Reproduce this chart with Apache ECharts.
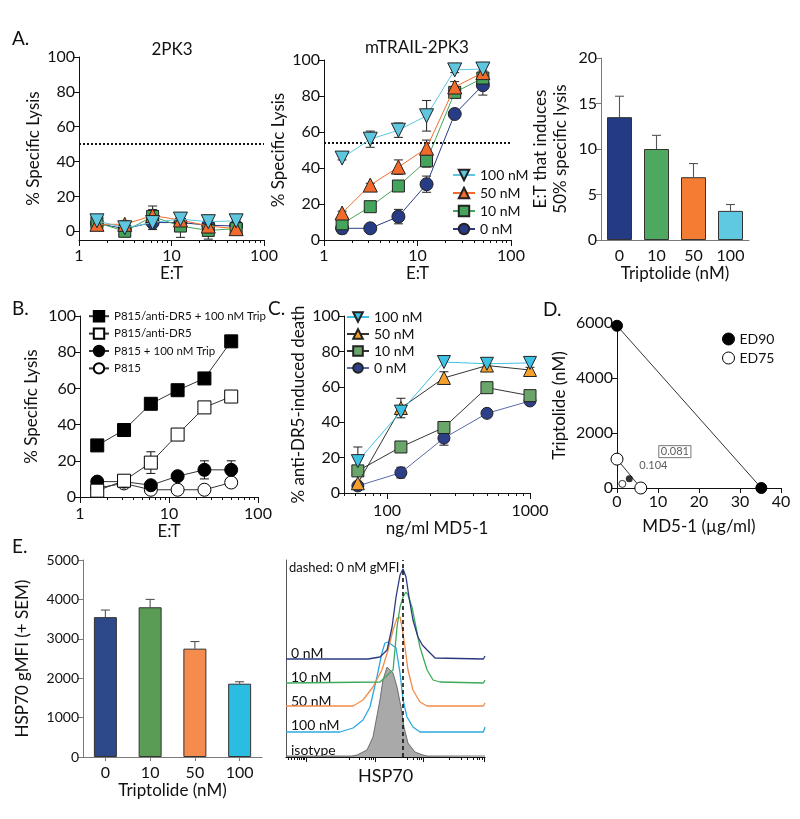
<!DOCTYPE html>
<html><head><meta charset="utf-8">
<script src="https://cdn.jsdelivr.net/npm/echarts/dist/echarts.min.js"></script>
<style>html,body{margin:0;padding:0;background:#fff}#c{width:800px;height:819px}</style>
</head><body><div id="c"></div>
<script>
// ---------------- DATA ----------------
const etRatio = [1.5625, 3.125, 6.25, 12.5, 25, 50];
const doseNames = ['100 nM', '50 nM', '10 nM', '0 nM'];

// A: 2PK3 (% specific lysis, SEM)
const a1Lysis100 = [6, 2, 5, 7, 5.5, 6];
const a1Lysis50  = [4, 4, 9, 6.5, 3, 1.5];
const a1Lysis10  = [5, 0, 8.5, 3, 0.5, 1.5];
const a1Lysis0   = [4.5, 1.5, 5, 5, 3.5, 3];
const a1Sem100 = [3, 1, 3, 3, 2, 1];
const a1Sem50  = [2, 2, 5.5, 3, 2, 1];
const a1Sem10  = [2, 3, 4, 6.5, 5, 2];
const a1Sem0   = [1, 2, 4, 3, 4, 2];
const a1Threshold = 50;

// A: mTRAIL-2PK3
const a2Lysis100 = [45.5, 56, 61, 69, 94.5, 95];
const a2Lysis50  = [15, 30.5, 40.5, 51, 85, 93];
const a2Lysis10  = [9, 18.5, 30, 44, 82, 90];
const a2Lysis0   = [6.5, 6.5, 13, 31, 70, 86];
const a2Sem100 = [1, 4.5, 4, 8.5, 1.5, 3.5];
const a2Sem50  = [1, 1, 4, 4.5, 3, 5];
const a2Sem10  = [2, 1, 1, 3.5, 2, 4];
const a2Sem0   = [3, 1, 4, 4.5, 1.5, 5.5];
const a2Threshold = 54;

// A: E:T that induces 50% lysis
const tripCats = ['0', '10', '50', '100'];
const a3EtValues = [13.5, 10, 6.9, 3.2];
const a3EtSem = [2.3, 1.5, 1.5, 0.7];

// B
const bNames = ['P815/anti-DR5 + 100 nM Trip', 'P815/anti-DR5', 'P815 + 100 nM Trip', 'P815'];
const bDr5Trip = [28.5, 37, 51.5, 59, 65.5, 86];
const bDr5     = [3.5, 9, 19, 34.5, 49.5, 55.5];
const bTrip    = [8.5, 8.5, 6.5, 11.5, 15, 15];
const bP815    = [5, 7.5, 4, 4, 4, 8];
const bSemDr5Trip = [0, 0, 0, 0, 0, 0];
const bSemDr5     = [0, 1, 6, 1, 1, 1];
const bSemTrip    = [0, 0, 0, 0, 5, 5];
const bSemP815    = [0, 0, 0, 0, 0, 2.5];

// C
const md5Doses = [62.5, 125, 250, 500, 1000];
const cDeath100 = [18, 46, 74, 73, 73.5];
const cDeath50  = [5.5, 48, 65, 72, 69.5];
const cDeath10  = [12.5, 26, 37, 59.5, 55];
const cDeath0   = [4, 11.5, 31, 45, 52];
const cSem100 = [8, 0, 0, 0, 0];
const cSem50  = [0, 5.5, 3.5, 1, 1.5];
const cSem10  = [2, 2, 2, 1, 1];
const cSem0   = [1, 3, 4, 1, 1];

// D isobologram
const dEd90 = [[0, 5900], [35.2, 0]];
const dEd90Combo = [[3, 340]];
const dEd75 = [[0, 1050], [5.8, 0]];
const dEd75Combo = [[1.3, 150]];
const dIndexEd90 = '0.081';
const dIndexEd75 = '0.104';

// E bars
const eGmfi = [3550, 3800, 2750, 1860];
const eGmfiSem = [180, 200, 180, 50];

// E histograms: [HSP70 channel, height]
const hist0nM = [[0,0],[41.2,0],[47.2,2],[50.8,9],[53.3,32],[55.3,62],[57.3,84],[58.8,90],[60.3,82],[61.8,62],[63.8,39],[66.3,22],[68.5,14],[70.9,9],[74.9,1],[99.2,0],[100,3]];
const hist10nM = [[0,0],[47.2,1],[53.8,13],[55.8,56],[57.3,76],[58.8,86],[60.3,91],[61.3,88],[63.3,76],[65.3,56],[67.3,36],[70.9,13],[73.9,3],[77.4,1],[99.2,0],[100,3]];
const hist50nM = [[0,0],[33.7,0],[38.7,6],[43.7,19],[48.2,36],[51.3,56],[53.8,76],[55.8,88],[57.3,89],[58.3,79],[58.8,79],[59.8,59],[61.3,36],[63.8,16],[67.3,4],[70.9,0],[99.2,0],[100,3]];
const hist100nM = [[0,0],[27.1,0],[33.7,4],[38.7,12],[42.2,25],[45.7,55],[48.2,79],[49.7,89],[51.3,90],[53.3,87],[55.3,84],[57.3,59],[58.8,32],[60.8,15],[63.8,5],[67.3,0],[99.2,0],[100,5]];
const histIsotype = [[0,0],[33,0],[35.7,1],[40.7,6],[43.7,19],[47.2,56],[48.7,76],[50.8,89],[52.3,86],[53.8,83],[55.8,69],[57.8,49],[59.3,29],[61.3,13],[64.8,4],[68.8,1],[71,0],[100,0]];
const gmfi0nM = 58.8;
const histLabels = ['0 nM', '10 nM', '50 nM', '100 nM', 'isotype'];
const histMajorTicks = [10, 45, 69, 99.5];
const histMinorTicks = [1,2.5,4,5.5,6.5,7.5,8.5,9.3,32,37,40,42,43,44,61,64,66,67,68,82,88,91,94,96,97,98.5];

// ---------------- LAYOUT / STYLE ----------------
const FONT = 'Lato, "Liberation Sans", sans-serif';
const INK = '#111';
const GRAY = '#7a7a7a';
const histOffsets = [98, 74, 51, 25, 1];
const plain = v => String(v);
const NAME_FS = 17, TICK_FS = 16;

const chart = echarts.init(document.getElementById('c'), null, {renderer: 'canvas'});

function logAxes(grid, min, max, majors, minors, name, nameGap, margin) {
  return [{
    type: 'log', logBase: 10, gridIndex: grid, min, max, position: 'bottom',
    name, nameLocation: 'middle', nameGap,
    nameTextStyle: {fontSize: NAME_FS, color: INK, fontFamily: FONT},
    axisLine: {show: true, onZero: false, lineStyle: {color: INK, width: 1}},
    axisTick: {show: true, customValues: majors, length: 6, lineStyle: {color: INK}},
    axisLabel: {customValues: majors, fontSize: TICK_FS, color: INK, margin, fontFamily: FONT, formatter: plain},
    splitLine: {show: false}
  }, {
    type: 'log', logBase: 10, gridIndex: grid, min, max, position: 'bottom',
    axisLine: {show: false, onZero: false},
    axisTick: {show: true, customValues: minors, length: 3, lineStyle: {color: INK}},
    axisLabel: {show: false}, splitLine: {show: false}
  }];
}
function yAxisV(grid, min, max, labels, name, nameGap, color, fs) {
  return {
    type: 'value', gridIndex: grid, min, max,
    name, nameLocation: 'middle', nameGap,
    nameTextStyle: {fontSize: NAME_FS, color: INK, fontFamily: FONT, lineHeight: 20},
    axisLine: {show: true, onZero: false, lineStyle: {color: color || INK, width: 1}},
    axisTick: {show: true, customValues: labels, length: 5, lineStyle: {color: color || INK}},
    axisLabel: {customValues: labels, fontSize: fs || TICK_FS, color: INK, margin: 4, fontFamily: FONT, formatter: plain},
    splitLine: {show: false}
  };
}
function catAxis(grid, name, nameGap, color, showTick) {
  return {
    type: 'category', gridIndex: grid, data: tripCats, position: 'bottom',
    name, nameLocation: 'middle', nameGap,
    nameTextStyle: {fontSize: NAME_FS, color: INK, fontFamily: FONT},
    axisLine: {show: true, onZero: false, lineStyle: {color, width: 1.2}},
    axisTick: {show: showTick, alignWithLabel: true, length: 4, lineStyle: {color}},
    axisLabel: {fontSize: TICK_FS, color: INK, margin: 8, fontFamily: FONT},
    splitLine: {show: false}
  };
}

function errSeries(xs, ys, sems, xi, yi, upOnly, color) {
  return {
    type: 'custom', xAxisIndex: xi, yAxisIndex: yi, silent: true, z: 2, clip: false,
    encode: {x: 0, y: 1},
    data: xs.map((x, i) => [x, ys[i], sems[i]]),
    renderItem(params, api) {
      const x = api.value(0), y = api.value(1), e = api.value(2);
      if (!e) return null;
      const top = api.coord([x, y + e]);
      const bot = api.coord([x, upOnly ? y : y - e]);
      const w = 4.5;
      const st = {stroke: color || '#333', lineWidth: 1.1};
      const ch = [
        {type: 'line', shape: {x1: top[0], y1: top[1], x2: bot[0], y2: bot[1]}, style: st},
        {type: 'line', shape: {x1: top[0] - w, y1: top[1], x2: top[0] + w, y2: top[1]}, style: st}
      ];
      if (!upOnly) ch.push({type: 'line', shape: {x1: bot[0] - w, y1: bot[1], x2: bot[0] + w, y2: bot[1]}, style: st});
      return {type: 'group', children: ch};
    }
  };
}

const styleA = {
  '100 nM': {symbol: 'triangle', rot: 180, size: 14, fill: '#5ec6df', line: '#5ec6df'},
  '50 nM':  {symbol: 'triangle', rot: 0, size: 14, fill: '#f26b2c', line: '#f26b2c'},
  '10 nM':  {symbol: 'rect', rot: 0, size: 12, fill: '#45a45b', line: '#45a45b'},
  '0 nM':   {symbol: 'circle', rot: 0, size: 13, fill: '#283c85', line: '#283c85'}
};
const styleC = {
  '100 nM': {symbol: 'triangle', rot: 180, size: 13, fill: '#3cc2e4', line: '#3cc2e4'},
  '50 nM':  {symbol: 'triangle', rot: 0, size: 13, fill: '#f5a02c', line: '#333333'},
  '10 nM':  {symbol: 'rect', rot: 0, size: 12, fill: '#6aa66a', line: '#333333'},
  '0 nM':   {symbol: 'circle', rot: 0, size: 12, fill: '#2d3f86', line: '#5a6aa8'}
};
function lineSeries(name, xs, ys, xi, yi, st, z) {
  return {
    type: 'line', name, xAxisIndex: xi, yAxisIndex: yi, z: z || 3,
    data: xs.map((x, i) => [x, ys[i]]),
    symbol: st.symbol, symbolSize: st.size, symbolRotate: st.rot || 0,
    itemStyle: {color: st.fill, borderColor: st.border || '#222', borderWidth: 1},
    lineStyle: {color: st.line, width: 1},
    emphasis: {disabled: true}
  };
}

const series = [];
// ---- A1 ----
const a1 = {'0 nM': [a1Lysis0, a1Sem0], '10 nM': [a1Lysis10, a1Sem10], '50 nM': [a1Lysis50, a1Sem50], '100 nM': [a1Lysis100, a1Sem100]};
Object.keys(a1).forEach((k, i) => {
  series.push(errSeries(etRatio, a1[k][0], a1[k][1], 0, 0, false));
  const s = lineSeries('2PK3 ' + k, etRatio, a1[k][0], 0, 0, styleA[k], 3 + i);
  if (i === 0) s.markLine = {silent: true, symbol: 'none', label: {show: false},
    lineStyle: {color: '#111', type: [2, 2], width: 2}, data: [{yAxis: a1Threshold}]};
  series.push(s);
});
// ---- A2 ----
const a2 = {'0 nM': [a2Lysis0, a2Sem0], '10 nM': [a2Lysis10, a2Sem10], '50 nM': [a2Lysis50, a2Sem50], '100 nM': [a2Lysis100, a2Sem100]};
Object.keys(a2).forEach((k, i) => {
  series.push(errSeries(etRatio, a2[k][0], a2[k][1], 2, 1, false));
  const s = lineSeries(k, etRatio, a2[k][0], 2, 1, styleA[k], 3 + i);
  if (i === 0) s.markLine = {silent: true, symbol: 'none', label: {show: false},
    lineStyle: {color: '#111', type: [2, 2], width: 2}, data: [{yAxis: a2Threshold}]};
  series.push(s);
});
// ---- A3 ----
const a3Colors = ['#243a82', '#4ea85f', '#f47d33', '#5ec9e1'];
series.push(errSeries([0, 1, 2, 3], a3EtValues, a3EtSem, 4, 2, true, '#555'));
series.push({type: 'bar', xAxisIndex: 4, yAxisIndex: 2, barWidth: 25, z: 3,
  data: a3EtValues.map((v, i) => ({value: v, itemStyle: {color: a3Colors[i]}})),
  itemStyle: {borderColor: '#333', borderWidth: 1}});
// ---- B ----
const bStyles = [
  {symbol: 'rect', size: 13, fill: '#000', line: '#333', border: '#000'},
  {symbol: 'rect', size: 13, fill: '#fff', line: '#333', border: '#000'},
  {symbol: 'circle', size: 13, fill: '#000', line: '#333', border: '#000'},
  {symbol: 'circle', size: 13, fill: '#fff', line: '#333', border: '#000'}
];
const bData = [[bDr5Trip, bSemDr5Trip], [bDr5, bSemDr5], [bTrip, bSemTrip], [bP815, bSemP815]];
[3, 2, 1, 0].forEach(i => {
  series.push(errSeries(etRatio, bData[i][0], bData[i][1], 5, 3, false, '#222'));
  series.push(lineSeries(bNames[i], etRatio, bData[i][0], 5, 3, bStyles[i], 7 - i));
});
// ---- C ----
const cData = {'0 nM': [cDeath0, cSem0], '10 nM': [cDeath10, cSem10], '50 nM': [cDeath50, cSem50], '100 nM': [cDeath100, cSem100]};
Object.keys(cData).forEach((k, i) => {
  series.push(errSeries(md5Doses, cData[k][0], cData[k][1], 7, 4, false, '#333'));
  series.push(lineSeries(k + ' ', md5Doses, cData[k][0], 7, 4, styleC[k], 3 + i));
});
// ---- D ----
series.push({type: 'line', name: 'ED90', xAxisIndex: 9, yAxisIndex: 5, data: dEd90, symbol: 'circle', symbolSize: 11,
  itemStyle: {color: '#000', borderColor: '#000'}, lineStyle: {color: '#333', width: 1}, z: 3});
series.push({type: 'scatter', name: 'ED90', xAxisIndex: 9, yAxisIndex: 5, data: dEd90Combo, symbol: 'circle', symbolSize: 7,
  itemStyle: {color: '#000'}, z: 4,
  label: {show: true, formatter: dIndexEd90, position: 'right', offset: [21, -27], fontSize: 11, color: '#333', fontFamily: FONT,
    borderColor: '#555', borderWidth: 1, padding: [1, 2, 0, 2]}});
series.push({type: 'line', name: 'ED75', xAxisIndex: 9, yAxisIndex: 5, data: dEd75, symbol: 'circle', symbolSize: 12,
  itemStyle: {color: '#fff', borderColor: '#000', borderWidth: 1}, lineStyle: {color: '#333', width: 1}, z: 3});
series.push({type: 'scatter', name: 'ED75', xAxisIndex: 9, yAxisIndex: 5, data: dEd75Combo, symbol: 'circle', symbolSize: 7,
  itemStyle: {color: '#fff', borderColor: '#000', borderWidth: 1}, z: 4,
  label: {show: true, formatter: dIndexEd75, position: 'right', offset: [8, -18], fontSize: 11, color: '#333', fontFamily: FONT}});
// ---- E1 ----
const eColors = ['#2e4989', '#5a9c55', '#f68b4e', '#2abde1'];
series.push(errSeries([0, 1, 2, 3], eGmfi, eGmfiSem, 10, 6, true, '#555'));
series.push({type: 'bar', xAxisIndex: 10, yAxisIndex: 6, barWidth: 23, z: 3,
  data: eGmfi.map((v, i) => ({value: v, itemStyle: {color: eColors[i]}})),
  itemStyle: {borderColor: '#333', borderWidth: 1}});
// ---- E2 ----
const histSets = [hist0nM, hist10nM, hist50nM, hist100nM];
const histColors = ['#2b3a7f', '#3daa5b', '#f28c4a', '#2ea9e0'];
series.push({type: 'line', name: 'isotype', xAxisIndex: 11, yAxisIndex: 7, showSymbol: false, symbol: 'none', z: 2,
  data: histIsotype.map(p => [p[0], p[1] + histOffsets[4]]),
  lineStyle: {color: '#555', width: 0.8}, areaStyle: {color: '#a9a9a9', opacity: 1},
  markLine: {silent: true, symbol: 'none', label: {show: false}, lineStyle: {color: '#111', type: [4, 3], width: 1.6},
    data: [{xAxis: gmfi0nM}]}});
[3, 2, 1, 0].forEach(i => {
  series.push({type: 'line', name: 'hist ' + histLabels[i], xAxisIndex: 11, yAxisIndex: 7, symbol: 'none', z: 3,
    data: histSets[i].map(p => [p[0], p[1] + histOffsets[i]]),
    lineStyle: {color: histColors[i], width: 1.3}});
});

const legendText = {fontSize: 14, color: INK, fontFamily: FONT};
const option = {
  animation: false,
  textStyle: {fontFamily: FONT},
  grid: [
    {left: 79, top: 57, width: 185, height: 183},
    {left: 324, top: 60, width: 187, height: 180},
    {left: 601, top: 58, width: 148, height: 182},
    {left: 80, top: 316, width: 178, height: 181},
    {left: 344, top: 316, width: 186, height: 177},
    {left: 617, top: 323, width: 164, height: 165},
    {left: 83, top: 560, width: 179, height: 197},
    {left: 286, top: 560, width: 199, height: 197}
  ],
  xAxis: [
    ...logAxes(0, 1, 100, [1, 10, 100], [2,3,4,5,6,7,8,9,20,30,40,50,60,70,80,90], 'E:T', 24, 8),
    ...logAxes(1, 1, 100, [1, 10, 100], [2,3,4,5,6,7,8,9,20,30,40,50,60,70,80,90], 'E:T', 24, 8),
    catAxis(2, 'Triptolide (nM)', 24, GRAY, false),
    ...logAxes(3, 1, 100, [1, 10, 100], [2,3,4,5,6,7,8,9,20,30,40,50,60,70,80,90], 'E:T', 21, 9),
    ...logAxes(4, 50, 1000, [100, 1000], [50,60,70,80,90,200,300,400,500,600,700,800,900], 'ng/ml MD5-1', 17, 10),
    {type: 'value', gridIndex: 5, min: 0, max: 40, position: 'bottom',
      name: 'MD5-1 (µg/ml)', nameLocation: 'middle', nameGap: 30,
      nameTextStyle: {fontSize: NAME_FS, color: INK, fontFamily: FONT},
      axisLine: {show: true, onZero: false, lineStyle: {color: INK}},
      axisTick: {show: true, customValues: [0, 10, 20, 30, 40], length: 5, lineStyle: {color: INK}},
      axisLabel: {customValues: [0, 10, 20, 30, 40], fontSize: TICK_FS, color: INK, margin: 6, fontFamily: FONT, formatter: plain},
      splitLine: {show: false}},
    catAxis(6, 'Triptolide (nM)', 24, GRAY, true),
    {type: 'value', gridIndex: 7, min: 0, max: 100, position: 'bottom',
      name: 'HSP70', nameLocation: 'middle', nameGap: 10,
      nameTextStyle: {fontSize: 18, color: INK, fontFamily: FONT},
      axisLine: {show: true, onZero: false, lineStyle: {color: INK, width: 1.2}},
      axisTick: {show: true, customValues: histMajorTicks, length: 5, lineStyle: {color: INK}},
      axisLabel: {show: false}, splitLine: {show: false}},
    {type: 'value', gridIndex: 7, min: 0, max: 100, position: 'bottom',
      axisLine: {show: false, onZero: false},
      axisTick: {show: true, customValues: histMinorTicks, length: 3, lineStyle: {color: INK}},
      axisLabel: {show: false}, splitLine: {show: false}}
  ],
  yAxis: [
    yAxisV(0, -5, 100, [0, 20, 40, 60, 80, 100], '% Specific Lysis', 34),
    yAxisV(1, 0, 100, [0, 20, 40, 60, 80, 100], '% Specific Lysis', 34),
    yAxisV(2, 0, 20, [0, 5, 10, 15, 20], 'E:T that induces\n50% specific lysis', 30, GRAY),
    yAxisV(3, 0, 100, [0, 20, 40, 60, 80, 100], '% Specific Lysis', 38),
    yAxisV(4, 0, 100, [0, 20, 40, 60, 80, 100], '% anti-DR5-induced death', 34),
    yAxisV(5, 0, 6000, [0, 2000, 4000, 6000], 'Triptolide (nM)', 47),
    yAxisV(6, 0, 5000, [0, 1000, 2000, 3000, 4000, 5000], 'HSP70 gMFI (+ SEM)', 50, GRAY, 14),
    {type: 'value', gridIndex: 7, min: 0, max: 197,
      axisLine: {show: true, onZero: false, lineStyle: {color: '#555', width: 1}},
      axisTick: {show: false}, axisLabel: {show: false}, splitLine: {show: false}}
  ],
  legend: [
    {orient: 'vertical', left: 452, top: 168, itemWidth: 22, itemHeight: 13, itemGap: 4, selectedMode: false, padding: 0,
      textStyle: legendText, data: ['100 nM', '50 nM', '10 nM', '0 nM']},
    {orient: 'vertical', left: 88, top: 310, itemWidth: 20, itemHeight: 13, itemGap: 5, selectedMode: false, padding: 0,
      textStyle: {fontSize: 11.5, color: INK, fontFamily: FONT}, data: bNames},
    {orient: 'vertical', left: 346, top: 310, itemWidth: 22, itemHeight: 12, itemGap: 3, selectedMode: false, padding: 0,
      textStyle: legendText, data: ['100 nM ', '50 nM ', '10 nM ', '0 nM ']},
    {orient: 'vertical', left: 722, top: 332, itemWidth: 12, itemHeight: 12, itemGap: 5, selectedMode: false, padding: 0,
      textStyle: legendText,
      data: [{name: 'ED90', icon: 'circle', itemStyle: {color: '#000', borderColor: '#000', borderWidth: 1}},
             {name: 'ED75', icon: 'circle', itemStyle: {color: '#fff', borderColor: '#000', borderWidth: 1}}]}
  ],
  graphic: [
    {type: 'text', x: 12, y: 39, style: {text: 'A.', fontSize: 19, fill: INK, fontFamily: FONT, verticalAlign: 'middle', textVerticalAlign: 'middle'}},
    {type: 'text', x: 12, y: 309, style: {text: 'B.', fontSize: 19, fill: INK, fontFamily: FONT, verticalAlign: 'middle', textVerticalAlign: 'middle'}},
    {type: 'text', x: 268, y: 309, style: {text: 'C.', fontSize: 19, fill: INK, fontFamily: FONT, verticalAlign: 'middle', textVerticalAlign: 'middle'}},
    {type: 'text', x: 543, y: 310, style: {text: 'D.', fontSize: 19, fill: INK, fontFamily: FONT, verticalAlign: 'middle', textVerticalAlign: 'middle'}},
    {type: 'text', x: 12, y: 547, style: {text: 'E.', fontSize: 19, fill: INK, fontFamily: FONT, verticalAlign: 'middle', textVerticalAlign: 'middle'}},
    {type: 'text', x: 172, y: 50, style: {text: '2PK3', fontSize: 17, fill: INK, fontFamily: FONT, align: 'center', textAlign: 'center', verticalAlign: 'middle', textVerticalAlign: 'middle'}},
    {type: 'text', x: 417, y: 48, style: {text: 'mTRAIL-2PK3', fontSize: 17, fill: INK, fontFamily: FONT, align: 'center', textAlign: 'center', verticalAlign: 'middle', textVerticalAlign: 'middle'}},
    {type: 'text', x: 289, y: 568, style: {text: 'dashed: 0 nM gMFI', fontSize: 13, fill: INK, fontFamily: FONT, verticalAlign: 'middle', textVerticalAlign: 'middle'}},
    ...histLabels.map((t, i) => ({type: 'text', x: 291, y: [653, 677, 701, 725, 750][i],
      style: {text: t, fontSize: 14, fill: INK, fontFamily: FONT, verticalAlign: 'middle', textVerticalAlign: 'middle'}}))
  ],
  series
};
chart.setOption(option);
</script></body></html>
